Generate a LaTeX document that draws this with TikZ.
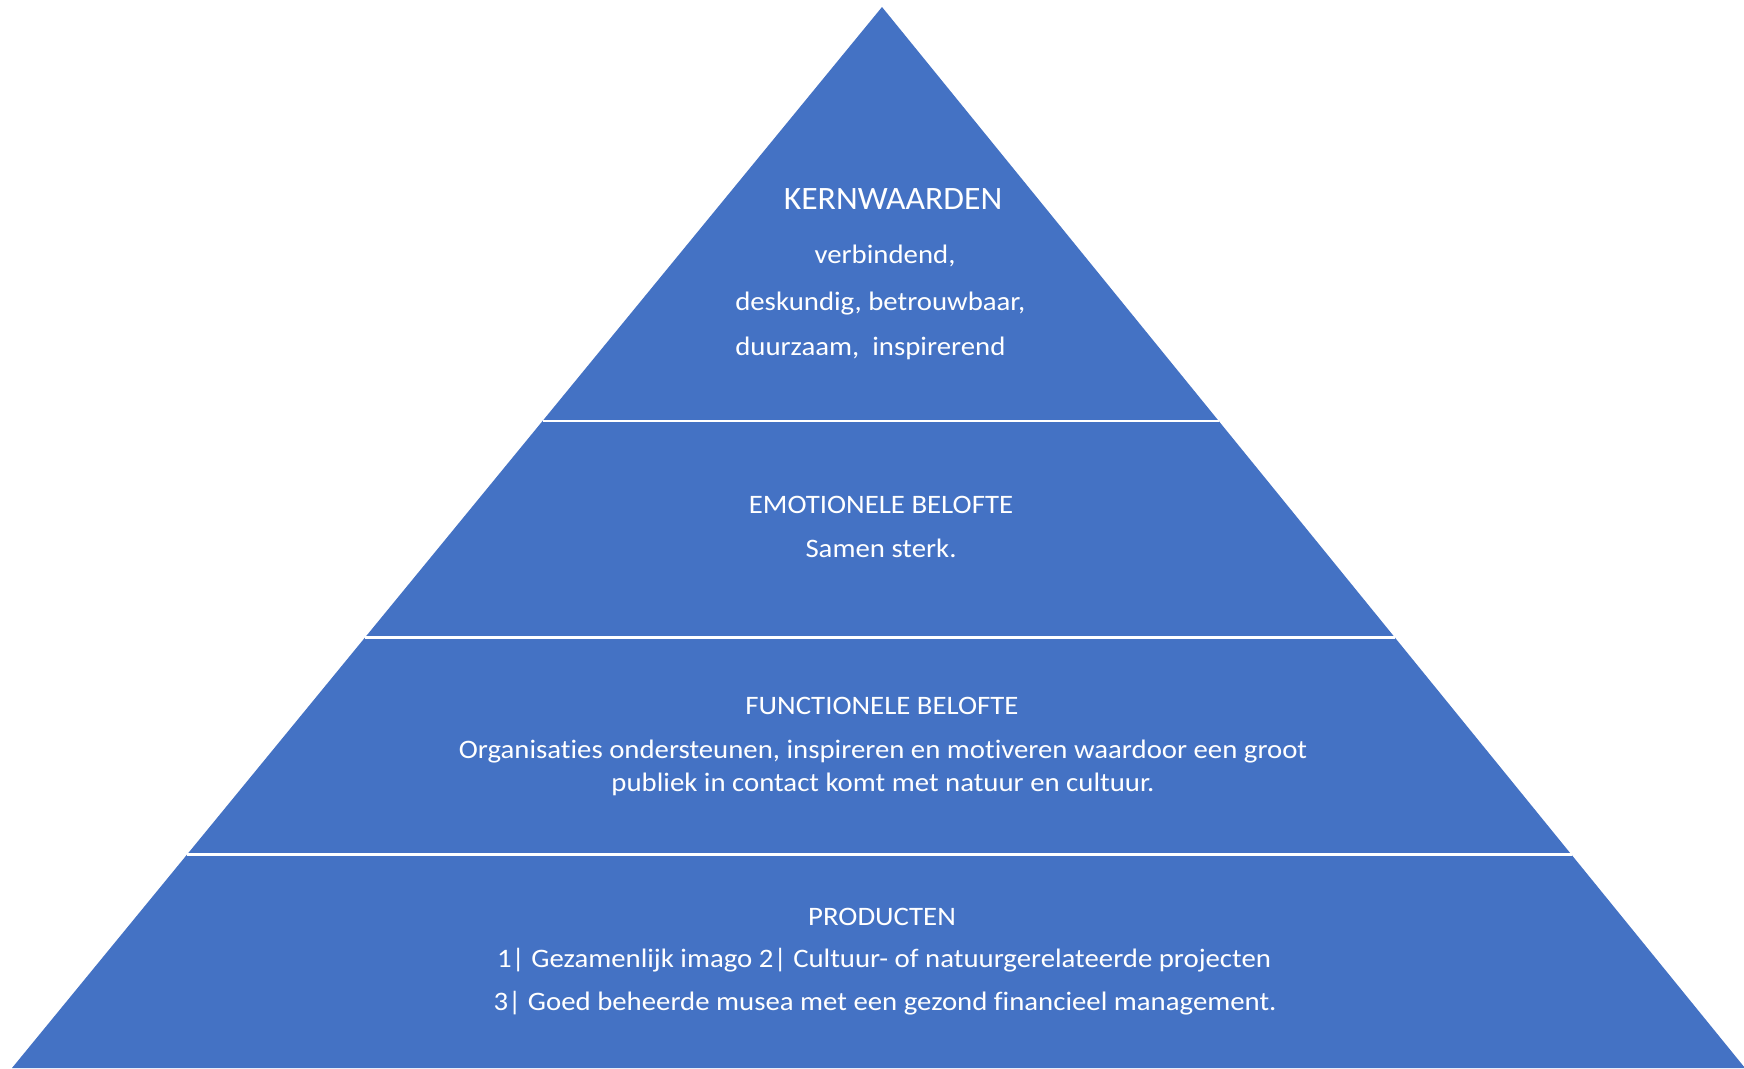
\documentclass[tikz,border=0pt]{standalone}
\usepackage{fontspec}
\setmainfont{Carlito}[FakeStretch=1.08, Ligatures=NoCommon]
\newfontfamily\kernfont{Carlito}[FakeStretch=1.03, Ligatures=NoCommon]
\usetikzlibrary{calc}
\definecolor{pyrblue}{HTML}{4472C4}
\tikzset{
    band/.style={fill=pyrblue, draw=none},
    sep/.style={draw=white, line width=1.9pt},
    label/.style={text=white, inner sep=0, anchor=base, font=\fontsize{20}{24}\selectfont},
    biglabel/.style={label, font=\kernfont\fontsize{24.5}{29}\selectfont}
  }

\begin{document}
\begin{tikzpicture}[x=0.75pt, y=-0.75pt]
    \useasboundingbox (0,0) rectangle (1744,1068);
    \coordinate (apex) at (882,7);
    \coordinate (baseL) at (12,1068);
    \coordinate (baseR) at (1745,1068);
    \fill[band] (apex) -- (baseL) -- (baseR) -- cycle;
    % dividing lines between the levels
    \foreach \f/\n in {0.390/one, 0.594/two, 0.799/three}{
        \draw[sep] ($(apex)!\f!(baseL)$) coordinate (\n L) -- ($(apex)!\f!(baseR)$) coordinate (\n R);
    }
    % top level
    \node (kern) [biglabel] at (893,209) {KERNWAARDEN};
    \node (kern1) [label] at (885,263) {verbindend,};
    \node (kern2) [label, anchor=base west] at (735,310) {deskundig, betrouwbaar,};
    \node (kern3) [label, anchor=base west] at (735,355) {duurzaam,\ \ inspirerend};
    % second level
    \node (emo) [label] at (881,513) {EMOTIONELE BELOFTE};
    \node (emo1) [label] at (881,557) {Samen sterk.};
    % third level
    \node (func) [label] at (882,714) {FUNCTIONELE BELOFTE};
    \node (func1) [label] at (883,758) {Organisaties ondersteunen, inspireren en motiveren waardoor een groot};
    \node (func2) [label] at (883,791) {publiek in contact komt met natuur en cultuur.};
    % bottom level
    \node (prod) [label] at (882,925) {PRODUCTEN};
    \node (prod1) [label] at (884,967) {1| Gezamenlijk imago 2| Cultuur- of natuurgerelateerde projecten};
    \node (prod2) [label] at (885,1010) {3| Goed beheerde musea met een gezond financieel management.};
\end{tikzpicture}
\end{document}
